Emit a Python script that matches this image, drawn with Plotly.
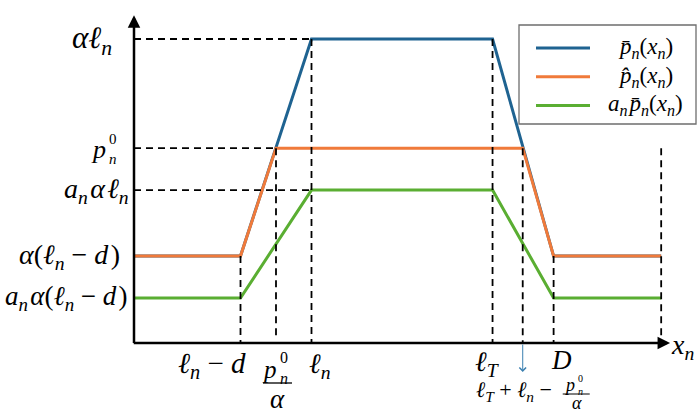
import plotly.graph_objects as go

# ---- data (schematic breakpoints) ----
x_ln_minus_d = 3.0
x_p0_over_alpha = 4.0
x_ln = 5.0
x_lT = 10.1
x_lT_plus = 10.95
x_D = 11.82
x_end = 14.85

y_alpha_ln = 10.0
y_p0 = 6.41
y_a_alpha_ln = 5.03
y_alpha_ln_d = 2.86
y_a_alpha_ln_d = 1.48

pbar_x = [0, x_ln_minus_d, x_ln, x_lT, x_D, x_end]
pbar_y = [y_alpha_ln_d, y_alpha_ln_d, y_alpha_ln, y_alpha_ln, y_alpha_ln_d, y_alpha_ln_d]
phat_x = [0, x_ln_minus_d, x_p0_over_alpha, x_lT_plus, x_D, x_end]
phat_y = [y_alpha_ln_d, y_alpha_ln_d, y_p0, y_p0, y_alpha_ln_d, y_alpha_ln_d]
apbar_x = [0, x_ln_minus_d, x_ln, x_lT, x_D, x_end]
apbar_y = [y_a_alpha_ln_d, y_a_alpha_ln_d, y_a_alpha_ln, y_a_alpha_ln, y_a_alpha_ln_d, y_a_alpha_ln_d]

HS = "\u200a"  # hair space, widens math text like TeX spacing
series_names = ["<i>p̄</i><sub><i>n</i></sub>(<i>x</i><sub><i>n</i></sub>)",
                "<i>p̂</i><sub><i>n</i></sub>(<i>x</i><sub><i>n</i></sub>)",
                "<i>a</i><sub><i>n</i></sub>" + HS + "<i>p̄</i><sub><i>n</i></sub>(<i>x</i><sub><i>n</i></sub>)"]
colors = ["#1f6391", "#f07a3a", "#5aae32"]

FONT = "Liberation Serif, DejaVu Serif, serif"

# pixel <-> data mapping of the full-figure plot area
PX0, PXU = 134.0, 35.5     # x=0 at pixel 134, 35.5 px per unit
PY0, PYU = 343.0, 30.4     # y=0 at pixel 343, 30.4 px per unit

fig = go.Figure()
for xs, ys, nm, c in [(pbar_x, pbar_y, series_names[0], colors[0]),
                      (phat_x, phat_y, series_names[1], colors[1]),
                      (apbar_x, apbar_y, series_names[2], colors[2])]:
    fig.add_trace(go.Scatter(x=xs, y=ys, mode="lines", name=nm, showlegend=False,
                             line=dict(color=c, width=3), hoverinfo="skip"))

dash = "7px,5px"
def dline(x0, y0, x1, y1):
    fig.add_shape(type="line", x0=x0, y0=y0, x1=x1, y1=y1, layer="above",
                  line=dict(color="black", width=1.8, dash=dash))

# horizontal guides
dline(0, y_alpha_ln, x_ln, y_alpha_ln)
dline(0, y_p0, x_p0_over_alpha, y_p0)
dline(0, y_a_alpha_ln, x_ln, y_a_alpha_ln)
# vertical guides
dline(x_ln_minus_d, y_alpha_ln_d, x_ln_minus_d, 0)
dline(x_p0_over_alpha, y_p0, x_p0_over_alpha, 0.1)
dline(x_ln, y_alpha_ln, x_ln, 0)
dline(x_lT, y_alpha_ln, x_lT, 0)
dline(x_lT_plus, y_p0, x_lT_plus, 0)
dline(x_D, y_alpha_ln_d, x_D, 0)
dline(x_end, y_p0, x_end, 0.2)

ann = []
def arrow(x0, y0, x1, y1, color="black", width=2.5, head=2, size=1.0):
    ann.append(dict(x=x1, y=y1, ax=x0, ay=y0, xref="x", yref="y", axref="x", ayref="y",
                    text="", showarrow=True, arrowhead=head, arrowwidth=width,
                    arrowsize=size, arrowcolor=color, standoff=0, startstandoff=0))

# axes
arrow(0, -0.05, 0, 10.78)
arrow(-0.05, 0, 15.1, 0)
# small blue arrow
arrow(x_lT_plus, 0, x_lT_plus, -0.95, color="#3a7fb0", width=1, head=4, size=1.3)

def txt(x, y, s, size, xanchor="center", yanchor="middle", xshift=0, yshift=0,
        xref="x", yref="y", align="center"):
    ann.append(dict(x=x, y=y, xref=xref, yref=yref, text=s, showarrow=False,
                    xanchor=xanchor, yanchor=yanchor, xshift=xshift, yshift=yshift,
                    align=align, borderpad=0,
                    font=dict(family=FONT, size=size, color="black")))

def p0n(x, y, size, small, xshift=0, yshift=0, stack_dy=0):
    # p followed by a stacked superscript 0 / subscript n; xshift = right edge of the p
    txt(x, y, "<i>p</i>", size, xanchor="right", xshift=xshift, yshift=yshift)
    txt(x, y, "0<br><i>n</i>", small, xanchor="left", xshift=xshift + 1,
        yshift=yshift + stack_dy, align="left")

# y labels
txt(0, y_alpha_ln, "<i>αℓ</i><sub><i>n</i></sub>", 31, xanchor="right", xshift=-21, yshift=-1)
p0n(0, y_p0, 26, 15, xshift=-27, yshift=-1, stack_dy=0)
txt(0, y_a_alpha_ln, "<i>a</i><sub><i>n</i></sub>" + HS + "<i>α" + HS + "ℓ</i><sub><i>n</i></sub>",
    28, xanchor="right", xshift=-4, yshift=0)
txt(0, y_alpha_ln_d, "<i>α</i>(<i>ℓ</i><sub><i>n</i></sub> − <i>d</i>" + HS + ")",
    28, xanchor="right", xshift=-13, yshift=0)
txt(0, y_a_alpha_ln_d, "<i>a</i><sub><i>n</i></sub>" + HS + "<i>α</i>(<i>ℓ</i><sub><i>n</i></sub> − <i>d</i>" + HS + ")",
    27, xanchor="right", xshift=-5, yshift=0)

# x labels
txt(x_ln_minus_d, 0, "<i>ℓ</i><sub><i>n</i></sub> − <i>d</i>", 29, xshift=-29, yshift=-22)
# p0n / alpha fraction
p0n(x_p0_over_alpha, 0, 25, 16, xshift=2, yshift=-26, stack_dy=1)
fig.add_shape(type="line", x0=x_p0_over_alpha - 13 / PXU, x1=x_p0_over_alpha + 16 / PXU,
              y0=-40 / PYU, y1=-40 / PYU, layer="above", line=dict(color="black", width=1.3))
txt(x_p0_over_alpha, 0, "<i>α</i>", 27, xshift=1, yshift=-56)
txt(x_ln, 0, "<i>ℓ</i><sub><i>n</i></sub>", 28, xshift=8, yshift=-22)
txt(x_lT, 0, "<i>ℓ</i><sub><i>T</i></sub>", 28, xshift=-5, yshift=-20)
txt(x_D, 0, "<i>D</i>", 27, xshift=8, yshift=-17)
txt(x_end, 0, "<i>x</i><sub><i>n</i></sub>", 28, xanchor="left", xshift=9, yshift=-3)
# l_T + l_n - p0n/alpha
txt(x_lT_plus, 0, "<i>ℓ</i><sub><i>T</i></sub> + <i>ℓ</i><sub><i>n</i></sub> −", 22,
    xanchor="left", xshift=-48, yshift=-48)
p0n(x_lT_plus, 0, 18, 10, xshift=53, yshift=-42, stack_dy=0)
fig.add_shape(type="line", x0=x_lT_plus + 40 / PXU, x1=x_lT_plus + 67 / PXU,
              y0=-51 / PYU, y1=-51 / PYU, layer="above", line=dict(color="black", width=1))
txt(x_lT_plus, 0, "<i>α</i>", 18, xshift=54, yanchor="bottom", yshift=-71)

# ---- legend (drawn as a framed key in paper coordinates) ----
W, H = 700.0, 414.0
fig.add_shape(type="rect", xref="paper", yref="paper", x0=519 / W, x1=696 / W,
              y0=1 - 124 / H, y1=1 - 25 / H, line=dict(color="#6e6e6e", width=1.3),
              fillcolor="white", layer="above")
for i, (nm, c) in enumerate(zip(series_names, colors)):
    yy = 1 - (48 + 28.7 * i) / H
    fig.add_shape(type="line", xref="paper", yref="paper", x0=536 / W, x1=590 / W,
                  y0=yy, y1=yy, line=dict(color=c, width=3), layer="above")
    txt(645 / W, yy, nm, 23, xanchor="center", xref="paper", yref="paper", yshift=0)

fig.update_layout(
    width=700, height=414,
    margin=dict(l=0, r=0, t=0, b=0),
    paper_bgcolor="white", plot_bgcolor="white",
    xaxis=dict(range=[-PX0 / PXU, (700 - PX0) / PXU], visible=False, fixedrange=True),
    yaxis=dict(range=[-(414 - PY0) / PYU, PY0 / PYU], visible=False, fixedrange=True),
    annotations=ann,
    showlegend=False,
)

fig.write_html("out.html", config={"displayModeBar": False},
               post_script="document.body.style.margin='0px';")
